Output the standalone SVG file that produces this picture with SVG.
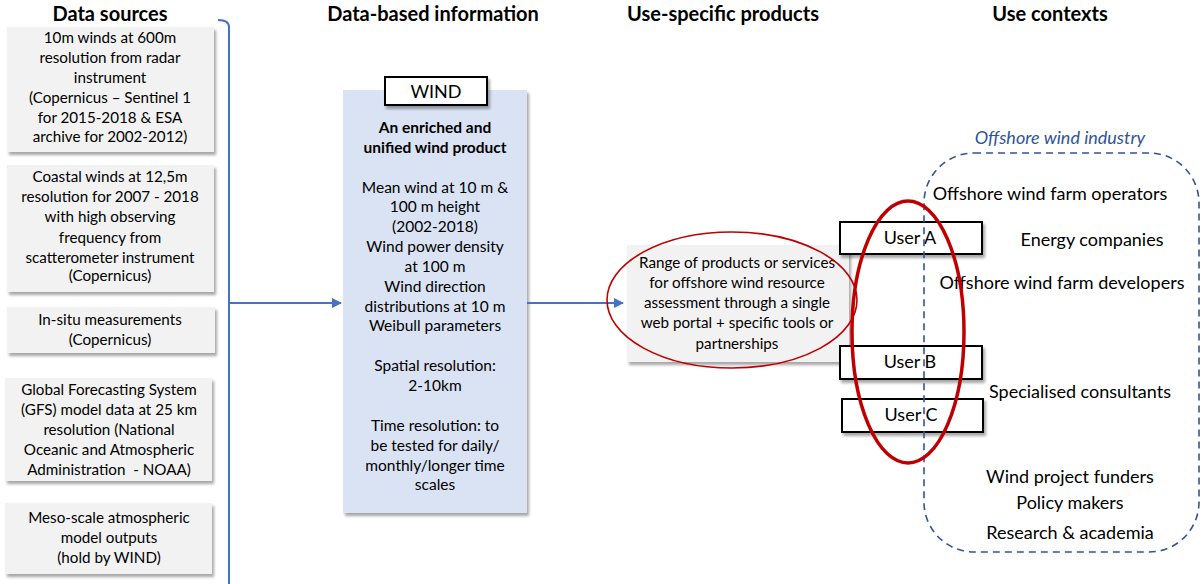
<svg xmlns="http://www.w3.org/2000/svg" width="1203" height="584" viewBox="0 0 1203 584">
<defs>
<filter id="sh" x="-10%" y="-10%" width="130%" height="130%">
<feDropShadow dx="2" dy="3" stdDeviation="1.8" flood-color="#000" flood-opacity="0.35"/>
</filter>
<marker id="arr" markerWidth="10" markerHeight="10" refX="9" refY="5" orient="auto" markerUnits="userSpaceOnUse">
<path d="M0,0 L10,5 L0,10 z" fill="#4472c4"/>
</marker>
<style>
text{font-family:Lato,"Open Sans","Liberation Sans",sans-serif;fill:#000;text-anchor:middle}
.h{font-weight:bold;font-size:20px}
.s{font-size:15.2px}
.p{font-size:15.2px}
.m{font-size:15.5px}
.l{font-size:18px}
.src{fill:#f2f2f2;filter:url(#sh)}
.user{fill:#fff;stroke:#000;stroke-width:2;filter:url(#sh)}
.con{fill:none;stroke:#4472c4;stroke-width:2}
.red{fill:none;stroke:#c00000}
</style>
</defs>
<rect width="1203" height="584" fill="#fff"/>

<g id="headers">
<text class="h" x="110" y="21">Data sources</text>
<text class="h" x="433" y="21">Data-based information</text>
<text class="h" x="723" y="21">Use-specific products</text>
<text class="h" x="1050" y="21">Use contexts</text>
</g>

<g id="src1">
<rect class="src" x="7" y="27" width="207" height="125"/>
<text class="s" x="110" y="43">10m winds at 600m</text>
<text class="s" x="110" y="63">resolution from radar</text>
<text class="s" x="110" y="83">instrument</text>
<text class="s" x="110" y="103">(Copernicus – Sentinel 1</text>
<text class="s" x="110" y="123">for 2015-2018 &amp; ESA</text>
<text class="s" x="110" y="142">archive for 2002-2012)</text>
</g>
<g id="src2">
<rect class="src" x="7" y="165" width="207" height="127"/>
<text class="s" x="110" y="182">Coastal winds at 12,5m</text>
<text class="s" x="110" y="202">resolution for 2007 - 2018</text>
<text class="s" x="110" y="222">with high observing</text>
<text class="s" x="110" y="243">frequency from</text>
<text class="s" x="110" y="263">scatterometer instrument</text>
<text class="s" x="110" y="281">(Copernicus)</text>
</g>
<g id="src3">
<rect class="src" x="7" y="307" width="208" height="46"/>
<text class="s" x="110" y="325">In-situ measurements</text>
<text class="s" x="110" y="345">(Copernicus)</text>
</g>
<g id="src4">
<rect class="src" x="5" y="378" width="207" height="103"/>
<text class="s" x="109" y="395">Global Forecasting System</text>
<text class="s" x="109" y="415">(GFS) model data at 25 km</text>
<text class="s" x="109" y="435">resolution (National</text>
<text class="s" x="109" y="455">Oceanic and Atmospheric</text>
<text class="s" x="109" y="475" xml:space="preserve">Administration  - NOAA)</text>
</g>
<g id="src5">
<rect class="src" x="5" y="503" width="207" height="71"/>
<text class="s" x="109" y="523">Meso-scale atmospheric</text>
<text class="s" x="109" y="543">model outputs</text>
<text class="s" x="109" y="563">(hold by WIND)</text>
</g>

<g id="info">
<rect x="343" y="90" width="184" height="423" fill="#dae3f3" filter="url(#sh)"/>
<text class="m" x="435" y="133" font-weight="bold">An enriched and</text>
<text class="m" x="435" y="153" font-weight="bold">unified wind product</text>
<text class="m" x="435" y="193">Mean wind at 10 m &amp;</text>
<text class="m" x="435" y="212">100 m height</text>
<text class="m" x="435" y="232">(2002-2018)</text>
<text class="m" x="435" y="252">Wind power density</text>
<text class="m" x="435" y="272">at 100 m</text>
<text class="m" x="435" y="292">Wind direction</text>
<text class="m" x="435" y="312">distributions at 10 m</text>
<text class="m" x="435" y="331">Weibull parameters</text>
<text class="m" x="435" y="371">Spatial resolution:</text>
<text class="m" x="435" y="391">2-10km</text>
<text class="m" x="435" y="431">Time resolution: to</text>
<text class="m" x="435" y="451">be tested for daily/</text>
<text class="m" x="435" y="471">monthly/longer time</text>
<text class="m" x="435" y="490">scales</text>
</g>
<g id="wind">
<rect class="user" x="385" y="77" width="102" height="28"/>
<text x="436" y="98" font-size="18">WIND</text>
</g>

<g id="product">
<rect class="src" x="627" y="245" width="222" height="117"/>
<text class="p" x="737" y="268">Range of products or services</text>
<text class="p" x="737" y="288">for offshore wind resource</text>
<text class="p" x="737" y="308">assessment through a single</text>
<text class="p" x="737" y="328">web portal + specific tools or</text>
<text class="p" x="737" y="349">partnerships</text>
</g>

<g id="userA">
<rect class="user" x="840" y="222" width="142" height="32"/>
<text class="l" x="910" y="244">User A</text>
</g>
<g id="userB">
<rect class="user" x="840" y="346" width="142" height="33"/>
<text class="l" x="910" y="368">User B</text>
</g>
<g id="userC">
<rect class="user" x="842" y="399" width="141" height="33"/>
<text class="l" x="911" y="421">User C</text>
</g>

<g id="contexts">
<rect x="924" y="153" width="275" height="399" rx="50" ry="50" fill="none" stroke="#2f5597" stroke-width="1.6" stroke-dasharray="7,5"/>
<text x="1060" y="144" font-size="18" font-style="italic" style="fill:#2f5597">Offshore wind industry</text>
<text class="l" x="1050" y="200">Offshore wind farm operators</text>
<text class="l" x="1092" y="246">Energy companies</text>
<text class="l" x="1062" y="289">Offshore wind farm developers</text>
<text class="l" x="1080" y="398">Specialised consultants</text>
<text class="l" x="1070" y="483">Wind project funders</text>
<text class="l" x="1070" y="509">Policy makers</text>
<text class="l" x="1070" y="539">Research &amp; academia</text>
</g>

<g id="connectors">
<path class="con" d="M218,20 Q229,20 229,27 L229,584"/>
<path class="con" d="M229,303 L341,303" marker-end="url(#arr)"/>
<path class="con" d="M527,303 L623,303" marker-end="url(#arr)"/>
</g>

<g id="highlights">
<ellipse class="red" cx="732" cy="300" rx="125" ry="68" stroke-width="1.6"/>
<ellipse class="red" cx="908" cy="332" rx="56" ry="131" stroke-width="3.5"/>
</g>
</svg>
